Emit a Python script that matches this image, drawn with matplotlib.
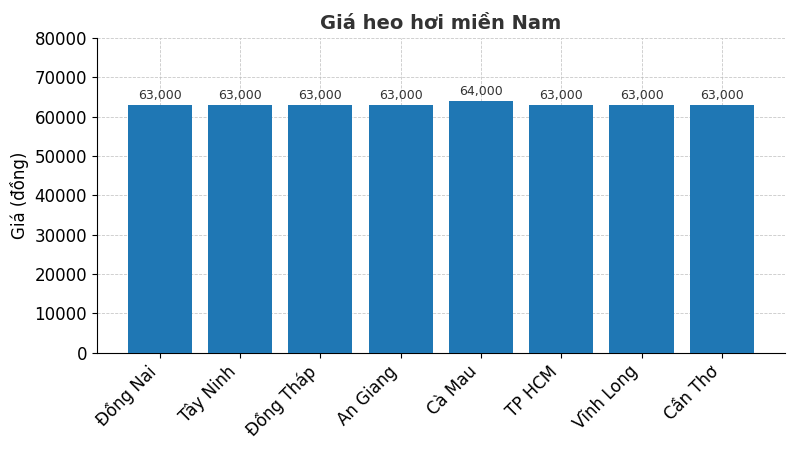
import matplotlib
matplotlib.use("Agg")
import matplotlib.pyplot as plt

provinces = ["Đồng Nai", "Tây Ninh", "Đồng Tháp", "An Giang", "Cà Mau",
             "TP HCM", "Vĩnh Long", "Cần Thơ"]
prices = [63000, 63000, 63000, 63000, 64000, 63000, 63000, 63000]

fig = plt.figure(figsize=(8, 4.5), dpi=100)
ax = fig.add_axes([0.121, 0.216, 0.86, 0.700])

x = list(range(len(provinces)))
ax.bar(x, prices, width=0.8, color="#1f77b4", zorder=3)
for xi, v in zip(x, prices):
    ax.text(xi, v + 800, f"{v:,}", ha="center", va="bottom",
            fontsize=9, color="#333333")

ax.set_xlim(-0.785, 7.785)
ax.set_ylim(0, 80000)
ax.set_yticks(range(0, 80001, 10000))
ax.set_xticks(x)
ax.set_xticklabels(provinces, rotation=45, ha="right", fontsize=12)
ax.tick_params(axis="y", labelsize=12)
ax.set_ylabel("Giá (đồng)", fontsize=12)
ax.set_title("Giá heo hơi miền Nam", fontsize=14, fontweight="bold",
             color="#333333")
ax.grid(True, linestyle="--", linewidth=0.6, color="#bbbbbb", alpha=0.8,
        zorder=0)
for s in ("top", "right"):
    ax.spines[s].set_visible(False)

fig.savefig("out.png", dpi=100)
